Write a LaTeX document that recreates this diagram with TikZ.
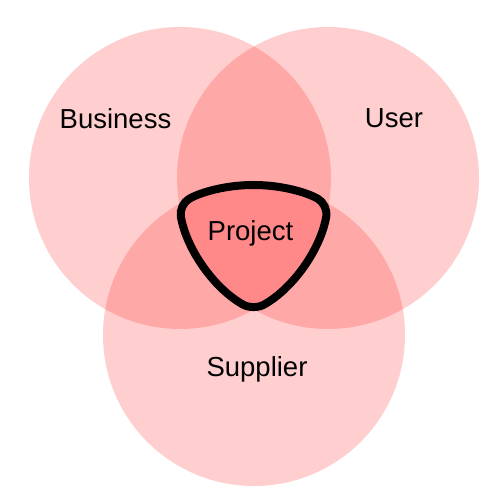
\documentclass[tikz,border=0pt]{standalone}
\usepackage{fontspec}
\setmainfont{Liberation Sans}
\begin{document}
\begin{tikzpicture}[x=1pt,y=1pt,
  venn/.style={circle, minimum size=302pt, inner sep=0pt, draw=none, fill=red, fill opacity=0.19},
  lbl/.style={anchor=base, inner sep=0pt, font=\fontsize{27.5}{33}\selectfont, text=black},
  outline/.style={draw=black, line width=8pt, rounded corners=12pt, line cap=round, line join=round}]
\useasboundingbox (0,0) rectangle (500,500);
\node[venn] (business) at (180,322) {};
\node[venn] (user) at (328,322) {};
\node[venn] (supplier) at (254,165) {};
\draw[outline] (254,315) arc[start angle=90, end angle=60.3, radius=150]
  arc[start angle=-9.84, end angle=-60.65, radius=151]
  arc[start angle=240.65, end angle=189.84, radius=151]
  arc[start angle=119.7, end angle=90, radius=150];
\node[lbl] (tbusiness) at (115.5,371) {Business};
\node[lbl] (tuser) at (394,372) {User};
\node[lbl] (tproject) at (250.5,259) {Project};
\node[lbl] (tsupplier) at (257,123) {Supplier};
\end{tikzpicture}
\end{document}
